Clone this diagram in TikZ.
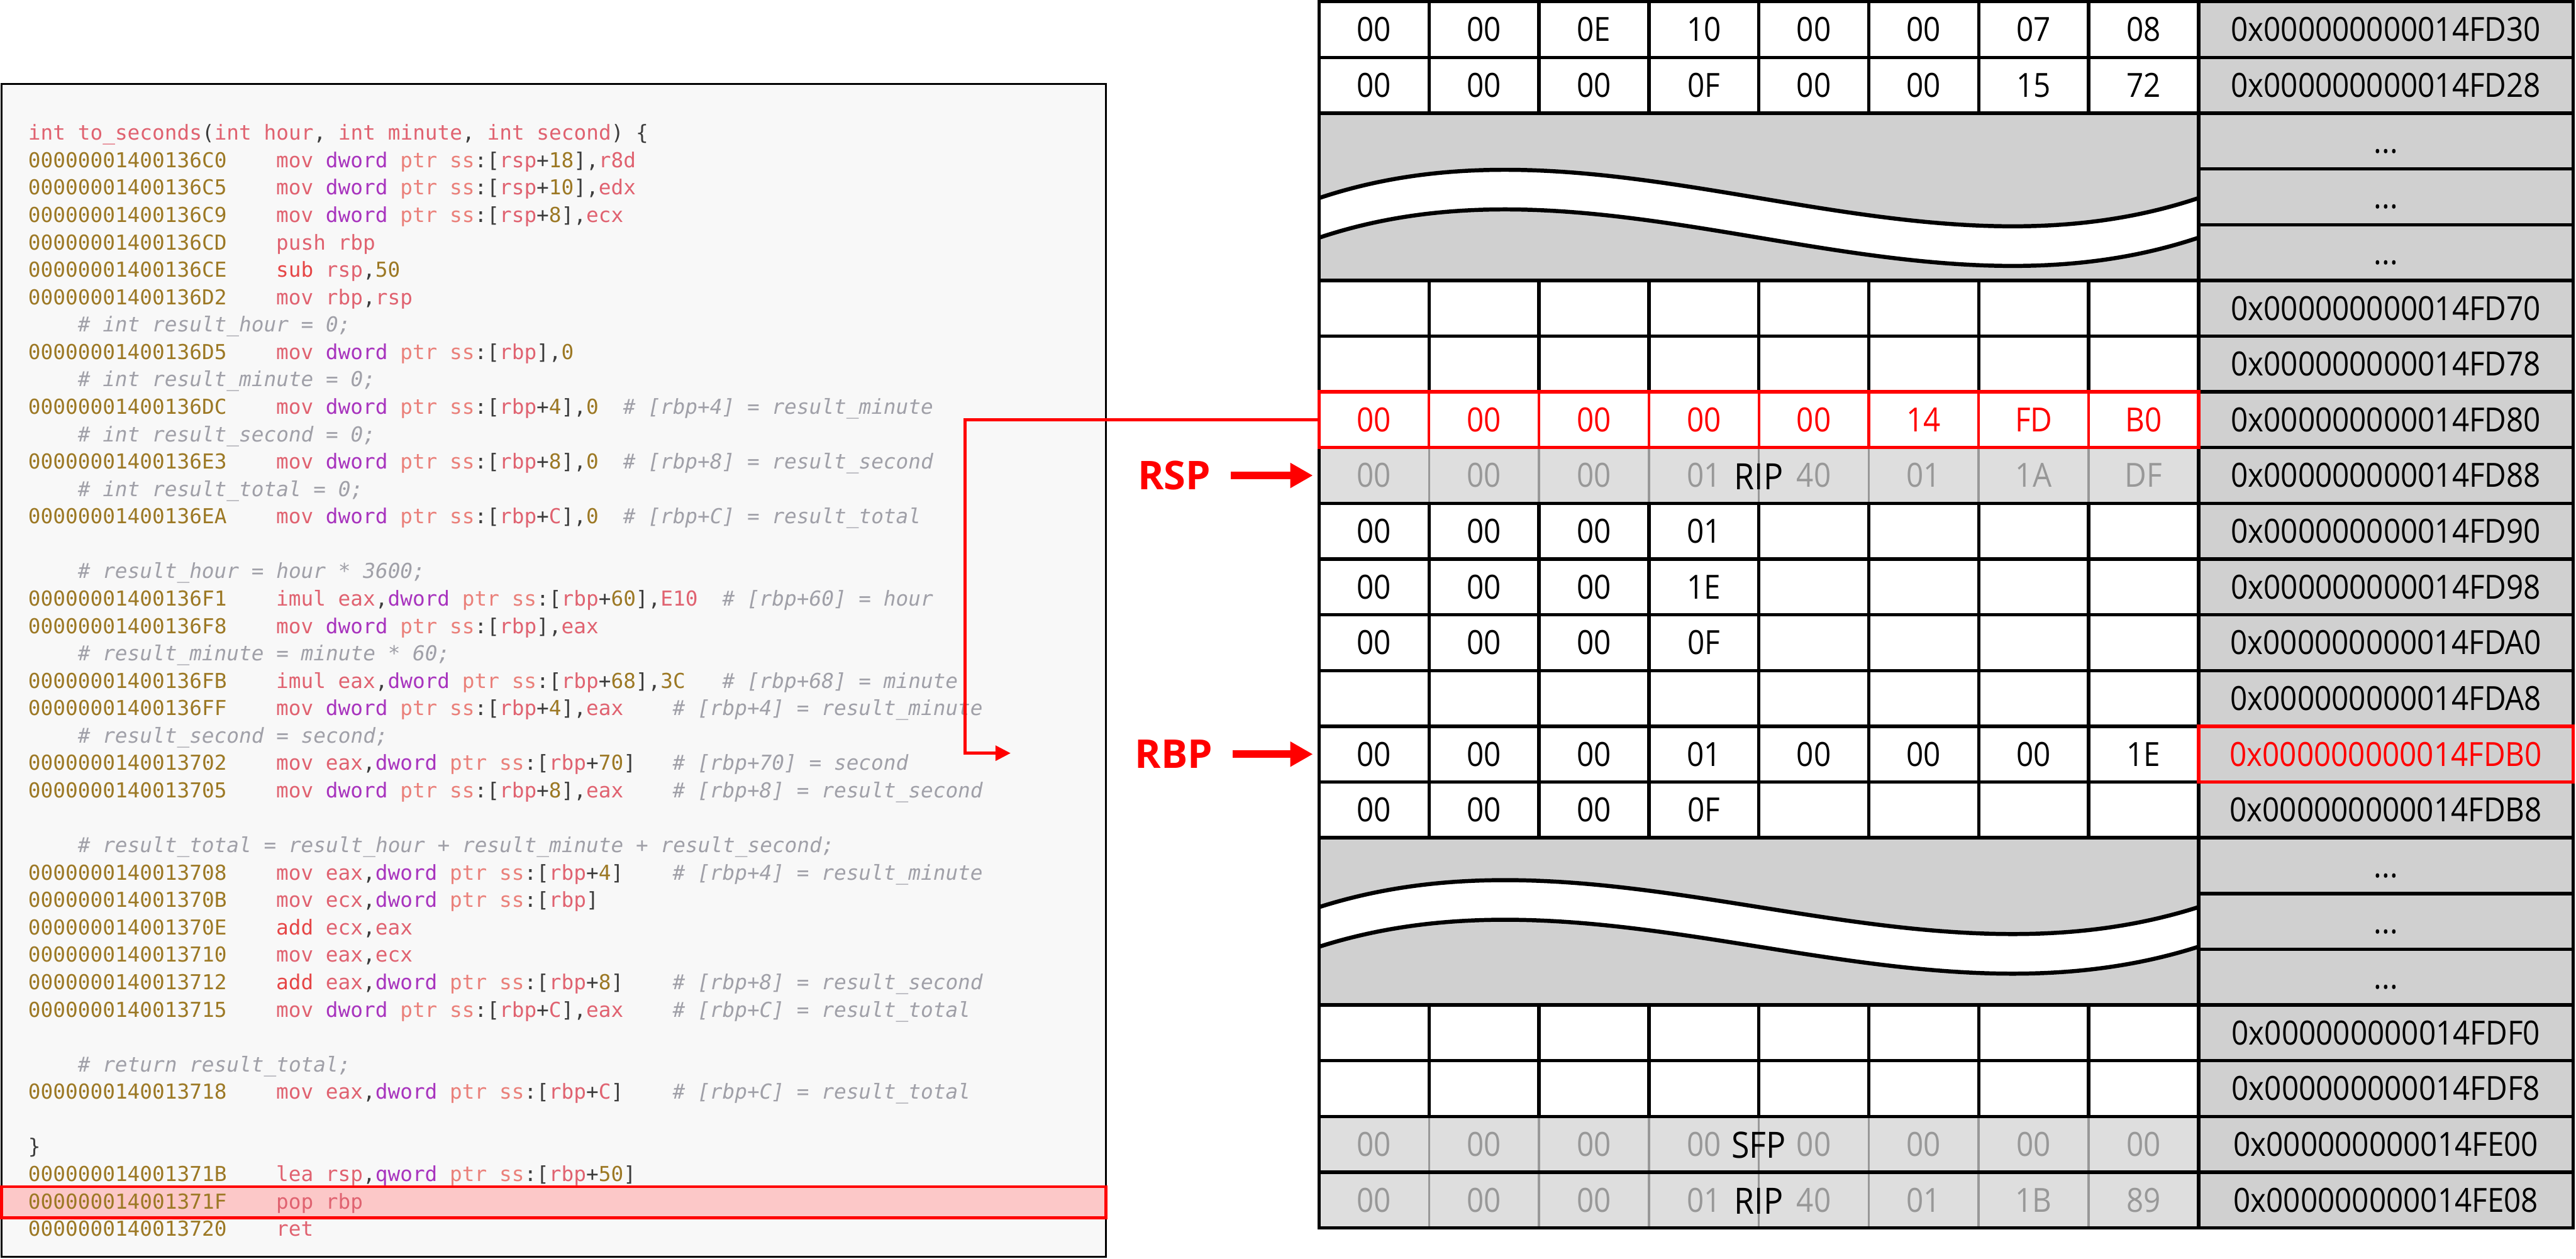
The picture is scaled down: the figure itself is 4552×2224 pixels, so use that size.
\documentclass[tikz,border=0pt]{standalone}
\usepackage{fontspec}
\usetikzlibrary{arrows.meta}
\newfontfamily\codefont{DejaVu Sans Mono}
\newfontfamily\tabfont[FakeStretch=0.9]{Open Sans}
\newfontfamily\lblfont{Open Sans}
\definecolor{caddr}{RGB}{156,120,36}
\definecolor{cmnem}{RGB}{224,98,112}
\definecolor{carith}{RGB}{230,70,70}
\definecolor{cpurp}{RGB}{168,52,190}
\definecolor{cptr}{RGB}{234,128,122}
\definecolor{cpunct}{RGB}{60,60,60}
\definecolor{ccmt}{RGB}{160,160,168}
\definecolor{cpanel}{RGB}{248,248,248}
\definecolor{chl}{RGB}{252,200,200}
\definecolor{caddrbg}{RGB}{208,208,208}
\definecolor{cgreybg}{RGB}{222,222,222}
\definecolor{cgreytx}{RGB}{152,152,152}
\definecolor{cred}{RGB}{255,0,0}
\newcommand\xA[1]{\textcolor{caddr}{#1}}
\newcommand\xM[1]{\textcolor{cmnem}{#1}}
\newcommand\xR[1]{\textcolor{carith}{#1}}
\newcommand\xD[1]{\textcolor{cpurp}{#1}}
\newcommand\xP[1]{\textcolor{cptr}{#1}}
\newcommand\xK[1]{\textcolor{cpunct}{#1}}
\newcommand\xdp{\xD{dword} \xP{ptr ss}\xK{:[}}
\newcommand\xdots{...}
\newcommand\ybase{247.6}
\newcommand\ysp{48.42}
\newcommand\chw{21.9}
\newcommand\cla[3]{\node[code] (l#1a) at (50,{\ybase+#1*\ysp}) {\xA{#2}};
  \node[code] (l#1b) at ({50+20*\chw},{\ybase+#1*\ysp}) {#3};}
\newcommand\clc[3]{\node[code,cmt] (l#1c) at ({50+#2*\chw},{\ybase+#1*\ysp}) {#3};}
\begin{document}
\begin{tikzpicture}[x=0.25pt,y=-0.25pt,
  code/.style={anchor=base west, inner sep=0pt, outer sep=0pt, font=\codefont\fontsize{9.1}{11}\selectfont},
  cmt/.style={text=ccmt, font=\codefont\itshape\fontsize{9.1}{11}\selectfont},
  cellb/.style={draw=black, line width=1.5pt, fill=white, minimum width=48.5625pt, minimum height=24.625pt, inner sep=0pt, outer sep=0pt, text height=10.5pt, text depth=0pt, font=\tabfont\fontsize{14.7}{16}\selectfont},
  cellg/.style={cellb, fill=cgreybg, draw=cgreytx, line width=1pt, text=cgreytx},
  cellr/.style={cellb, draw=cred, line width=1.2pt, text=cred},
  addrc/.style={cellb, fill=caddrbg, minimum width=165.5pt},
  lbl/.style={inner sep=0pt, outer sep=0pt, text height=11.4pt, text depth=0pt, font=\tabfont\fontsize{16}{18}\selectfont},
  regname/.style={inner sep=0pt, outer sep=0pt, text=cred, font=\lblfont\bfseries\fontsize{17.5}{20}\selectfont},
  bigarrow/.style={draw=cred, line width=3.3pt, -{Triangle[length=10pt,width=10.5pt]}},
  conn/.style={draw=cred, line width=1.5pt, -{Triangle[length=6.75pt,width=6.5pt]}},
  wave/.style={draw=black, line width=1.8pt}]
\useasboundingbox (0,0) rectangle (4552,2224);
\fill[white] (0,0) rectangle (4552,2224);
% ---------- code panel ----------
\draw[line width=0.75pt, fill=cpanel] (3,148) rectangle (1954,2221);
\draw[line width=1.25pt, draw=cred, fill=chl] (3,2097) rectangle (1954,2152);
\node[code] (l0a) at (50,{\ybase}) {\xM{int to\_seconds}\xK{(}\xM{int hour}\xK{,} \xM{int minute}\xK{,} \xM{int second}\xK{) \{}};
\cla{1}{00000001400136C0}{\xM{mov} \xdp\xM{rsp}\xK{+}\xA{18}\xK{],}\xM{r8d}}
\cla{2}{00000001400136C5}{\xM{mov} \xdp\xM{rsp}\xK{+}\xA{10}\xK{],}\xM{edx}}
\cla{3}{00000001400136C9}{\xM{mov} \xdp\xM{rsp}\xK{+}\xA{8}\xK{],}\xM{ecx}}
\cla{4}{00000001400136CD}{\xM{push rbp}}
\cla{5}{00000001400136CE}{\xR{sub} \xM{rsp}\xK{,}\xA{50}}
\cla{6}{00000001400136D2}{\xM{mov rbp}\xK{,}\xM{rsp}}
\clc{7}{4}{\# int result\_hour = 0;}
\cla{8}{00000001400136D5}{\xM{mov} \xdp\xM{rbp}\xK{],}\xA{0}}
\clc{9}{4}{\# int result\_minute = 0;}
\cla{10}{00000001400136DC}{\xM{mov} \xdp\xM{rbp}\xK{+}\xA{4}\xK{],}\xA{0}}
\clc{10}{48}{\# [rbp+4] = result\_minute}
\clc{11}{4}{\# int result\_second = 0;}
\cla{12}{00000001400136E3}{\xM{mov} \xdp\xM{rbp}\xK{+}\xA{8}\xK{],}\xA{0}}
\clc{12}{48}{\# [rbp+8] = result\_second}
\clc{13}{4}{\# int result\_total = 0;}
\cla{14}{00000001400136EA}{\xM{mov} \xdp\xM{rbp}\xK{+}\xM{C}\xK{],}\xA{0}}
\clc{14}{48}{\# [rbp+C] = result\_total}
\clc{16}{4}{\# result\_hour = hour * 3600;}
\cla{17}{00000001400136F1}{\xM{imul eax}\xK{,}\xdp\xM{rbp}\xK{+}\xA{60}\xK{],}\xM{E10}}
\clc{17}{56}{\# [rbp+60] = hour}
\cla{18}{00000001400136F8}{\xM{mov} \xdp\xM{rbp}\xK{],}\xM{eax}}
\clc{19}{4}{\# result\_minute = minute * 60;}
\cla{20}{00000001400136FB}{\xM{imul eax}\xK{,}\xdp\xM{rbp}\xK{+}\xA{68}\xK{],}\xA{3C}}
\clc{20}{56}{\# [rbp+68] = minute}
\cla{21}{00000001400136FF}{\xM{mov} \xdp\xM{rbp}\xK{+}\xA{4}\xK{],}\xM{eax}}
\clc{21}{52}{\# [rbp+4] = result\_minute}
\clc{22}{4}{\# result\_second = second;}
\cla{23}{0000000140013702}{\xM{mov eax}\xK{,}\xdp\xM{rbp}\xK{+}\xA{70}\xK{]}}
\clc{23}{52}{\# [rbp+70] = second}
\cla{24}{0000000140013705}{\xM{mov} \xdp\xM{rbp}\xK{+}\xA{8}\xK{],}\xM{eax}}
\clc{24}{52}{\# [rbp+8] = result\_second}
\clc{26}{4}{\# result\_total = result\_hour + result\_minute + result\_second;}
\cla{27}{0000000140013708}{\xM{mov eax}\xK{,}\xdp\xM{rbp}\xK{+}\xA{4}\xK{]}}
\clc{27}{52}{\# [rbp+4] = result\_minute}
\cla{28}{000000014001370B}{\xM{mov ecx}\xK{,}\xdp\xM{rbp}\xK{]}}
\cla{29}{000000014001370E}{\xR{add} \xM{ecx}\xK{,}\xM{eax}}
\cla{30}{0000000140013710}{\xM{mov eax}\xK{,}\xM{ecx}}
\cla{31}{0000000140013712}{\xR{add} \xM{eax}\xK{,}\xdp\xM{rbp}\xK{+}\xA{8}\xK{]}}
\clc{31}{52}{\# [rbp+8] = result\_second}
\cla{32}{0000000140013715}{\xM{mov} \xdp\xM{rbp}\xK{+}\xM{C}\xK{],}\xM{eax}}
\clc{32}{52}{\# [rbp+C] = result\_total}
\clc{34}{4}{\# return result\_total;}
\cla{35}{0000000140013718}{\xM{mov eax}\xK{,}\xdp\xM{rbp}\xK{+}\xM{C}\xK{]}}
\clc{35}{52}{\# [rbp+C] = result\_total}
\node[code] (l37a) at (50,{\ybase+37*\ysp}) {\xK{\}}};
\cla{38}{000000014001371B}{\xM{lea rsp}\xK{,}\xD{qword} \xP{ptr ss}\xK{:[}\xM{rbp}\xK{+}\xA{50}\xK{]}}
\cla{39}{000000014001371F}{\xM{pop rbp}}
\cla{40}{0000000140013720}{\xM{ret}}
% ---------- memory table ----------
\foreach \ri/\vals in {0/{00,00,0E,10,00,00,07,08},1/{00,00,00,0F,00,00,15,72},13/{00,00,00,01,00,00,00,1E}}{
  \foreach \vi [count=\ci] in \vals {
    \node[cellb] (b\ri-\ci) at ({2331+(\ci-0.5)*194.25},{3+(\ri+0.5)*98.5}) {\vi};
  }
}
\foreach \ri/\vals in {9/{00,00,00,01},10/{00,00,00,1E},11/{00,00,00,0F},14/{00,00,00,0F}}{
  \foreach \vi [count=\ci] in \vals {
    \node[cellb] (b\ri-\ci) at ({2331+(\ci-0.5)*194.25},{3+(\ri+0.5)*98.5}) {\vi};
  }
  \foreach \ci in {5,6,7,8} {
    \node[cellb] (b\ri-\ci) at ({2331+(\ci-0.5)*194.25},{3+(\ri+0.5)*98.5}) {};
  }
}
\foreach \ri in {5,6,12,18,19}{
  \foreach \ci in {1,2,3,4,5,6,7,8} {
    \node[cellb] (b\ri-\ci) at ({2331+(\ci-0.5)*194.25},{3+(\ri+0.5)*98.5}) {};
  }
}
% break regions
\fill[caddrbg] (2331,200) rectangle (3885,495.5);
\fill[white] (2331,350) .. controls (2849,177) and (3367,523) .. (3885,350) -- (3885,420) .. controls (3367,593) and (2849,247) .. (2331,420) -- cycle;
\draw[wave] (2331,350) .. controls (2849,177) and (3367,523) .. (3885,350);
\draw[wave] (2331,420) .. controls (2849,247) and (3367,593) .. (3885,420);
\draw[line width=1.5pt] (2331,200) rectangle (3885,495.5);
\fill[caddrbg] (2331,1480.5) rectangle (3885,1776);
\fill[white] (2331,1603) .. controls (2849,1438) and (3367,1768) .. (3885,1603) -- (3885,1673) .. controls (3367,1838) and (2849,1508) .. (2331,1673) -- cycle;
\draw[wave] (2331,1603) .. controls (2849,1438) and (3367,1768) .. (3885,1603);
\draw[wave] (2331,1673) .. controls (2849,1508) and (3367,1838) .. (3885,1673);
\draw[line width=1.5pt] (2331,1480.5) rectangle (3885,1776);
% grey rows
\foreach \ri/\vals/\lab in {8/{00,00,00,01,40,01,1A,DF}/RIP,20/{00,00,00,00,00,00,00,00}/SFP,21/{00,00,00,01,40,01,1B,89}/RIP}{
  \foreach \vi [count=\ci] in \vals {
    \node[cellg] (b\ri-\ci) at ({2331+(\ci-0.5)*194.25},{3+(\ri+0.5)*98.5}) {\vi};
  }
  \draw[black, line width=1.5pt] (b\ri-1.north west) rectangle (b\ri-8.south east);
  \node[lbl] (lab\ri) at ({2331+4*194.25},{3+(\ri+0.5)*98.5+2}) {\lab};
}
% address column
\foreach \ri/\ti in {0/0x000000000014FD30,1/0x000000000014FD28,2/\xdots,3/\xdots,4/\xdots,5/0x000000000014FD70,6/0x000000000014FD78,7/0x000000000014FD80,8/0x000000000014FD88,9/0x000000000014FD90,10/0x000000000014FD98,11/0x000000000014FDA0,12/0x000000000014FDA8,14/0x000000000014FDB8,15/\xdots,16/\xdots,17/\xdots,18/0x000000000014FDF0,19/0x000000000014FDF8,20/0x000000000014FE00,21/0x000000000014FE08}{
  \node[addrc] (a\ri) at (4216,{3+(\ri+0.5)*98.5}) {\ti};
}
\node[addrc, draw=cred, text=cred] (a13) at (4216,{3+13.5*98.5}) {0x000000000014FDB0};
% red row
\foreach \vi [count=\ci] in {00,00,00,00,00,14,FD,B0} {
  \node[cellr] (b7-\ci) at ({2331+(\ci-0.5)*194.25},{3+7.5*98.5}) {\vi};
}
\draw[cred, line width=1.5pt] (b7-1.north west) rectangle (b7-8.south east);
% connectors
\coordinate (k1) at (1705,{3+7.5*98.5});
\coordinate (ktip) at (1786,1331);
\draw[conn] (b7-1.west) -- (k1) |- (ktip);
\node[regname] (rsp) at (2075,{3+8.5*98.5}) {RSP};
\draw[bigarrow, shorten <=9pt, shorten >=2.75pt] (rsp.east) -- (b8-1.west);
\node[regname] (rbp) at (2074,{3+13.5*98.5}) {RBP};
\draw[bigarrow, shorten <=9pt, shorten >=2.75pt] (rbp.east) -- (b13-1.west);
\end{tikzpicture}
\end{document}
